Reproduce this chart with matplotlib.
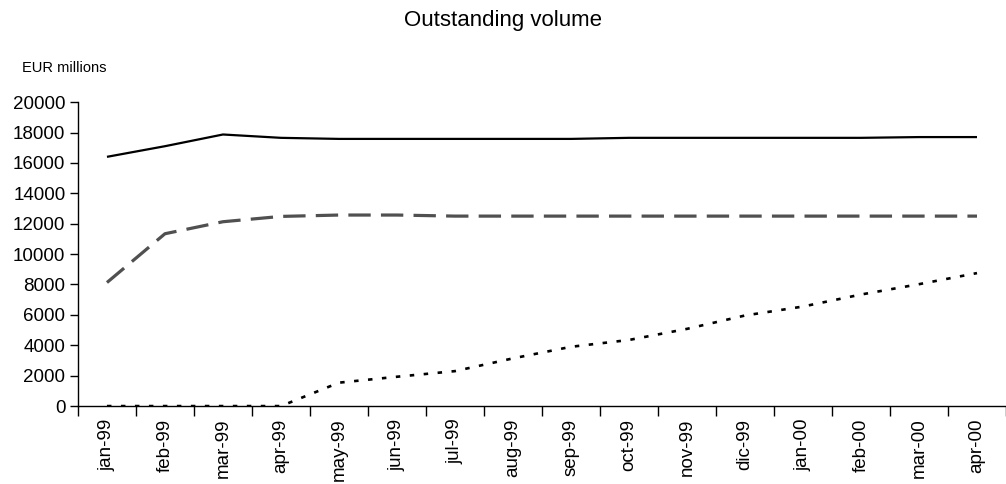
import matplotlib
matplotlib.use("Agg")
import matplotlib.pyplot as plt
import numpy as np

plt.rcParams['font.family'] = ['Liberation Sans', 'DejaVu Sans']

# monthly outstanding volume, EUR millions
months = ['jan-99', 'feb-99', 'mar-99', 'apr-99', 'may-99', 'jun-99', 'jul-99', 'aug-99',
          'sep-99', 'oct-99', 'nov-99', 'dic-99', 'jan-00', 'feb-00', 'mar-00', 'apr-00']
series_solid = [16400, 17100, 17870, 17650, 17580, 17580, 17580, 17580,
                17580, 17650, 17650, 17650, 17650, 17650, 17700, 17700]
series_dashed = [8130, 11340, 12130, 12480, 12570, 12570, 12500, 12500,
                 12500, 12500, 12500, 12500, 12500, 12500, 12500, 12500]
series_dotted = [0, 0, 0, 0, 1540, 1930, 2300, 3140,
                 3900, 4350, 5080, 5960, 6550, 7340, 8020, 8750]

fig = plt.figure(figsize=(10.06, 4.84), dpi=100)
ax = fig.add_axes([0.0775, 0.161, 0.9225, 0.628])

x = np.arange(len(months))
ax.plot(x, series_solid, color='black', lw=1.6, solid_capstyle='butt')
ax.plot(x, series_dashed, color='#505050', lw=2.3, dashes=(7, 3.2), dash_capstyle='butt')
ax.plot(x, series_dotted, color='black', lw=1.9, dashes=(1.7, 3.6), dash_capstyle='butt')

ax.set_xlim(-0.5, len(months) - 0.5)
ax.set_ylim(0, 20000)
ax.set_yticks(np.arange(0, 20001, 2000))

# ticks sit on category boundaries, labels at the centres
ax.set_xticks(np.arange(len(months) + 1) - 0.5)
ax.set_xticklabels([])
ax.set_xticks(x, minor=True)
ax.set_xticklabels(months, minor=True, rotation=90)
ax.tick_params(axis='x', which='major', length=7, width=1, direction='out')
ax.tick_params(axis='x', which='minor', length=0, pad=9, labelsize=13.5)
ax.tick_params(axis='y', length=6, width=1, direction='out', pad=3, labelsize=13.5)

for side in ('top', 'right'):
    ax.spines[side].set_visible(False)
for side in ('left', 'bottom'):
    ax.spines[side].set_linewidth(1)

fig.text(0.5, 0.958, 'Outstanding volume', ha='center', va='center', fontsize=16)
fig.text(0.022, 0.86, 'EUR millions', ha='left', va='center', fontsize=10.5)

fig.savefig('out.png', dpi=100)
